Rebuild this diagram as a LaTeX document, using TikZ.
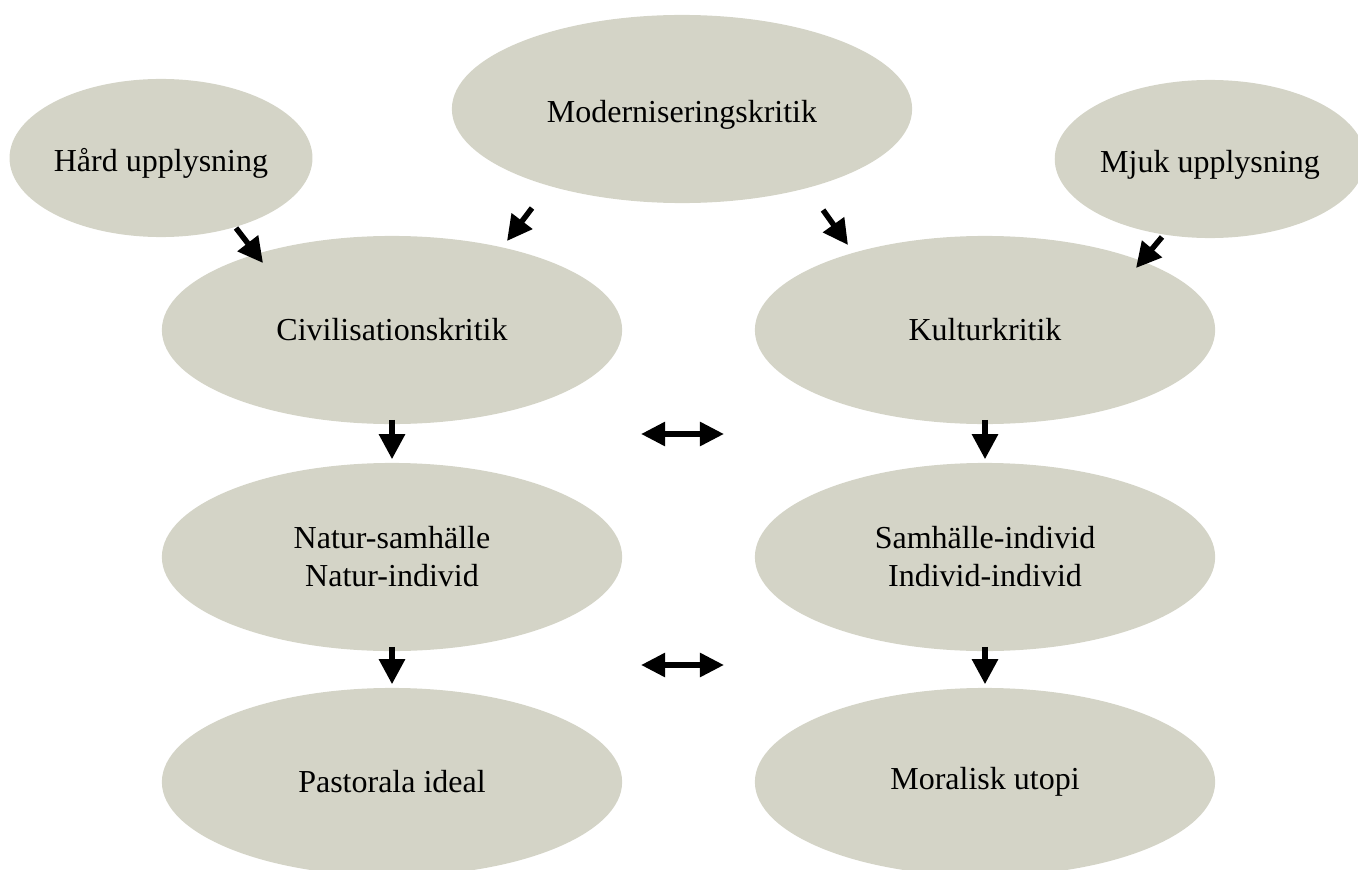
\documentclass[tikz,border=0pt]{standalone}
\usepackage{fontspec}
\setmainfont{Liberation Serif}
\usetikzlibrary{arrows.meta,shapes.geometric,calc}
\definecolor{sand}{RGB}{212,212,199}
\tikzset{
    topic/.style =  {ellipse,
                    fill=sand,
                    draw=none,
                    text=black,
                    inner sep=0pt,
                    align=center,
                    font=\fontsize{9.1}{10.8}\selectfont,
                    minimum width=4.6cm,
                    minimum height=1.88cm},
    side/.style =   {topic,
                    minimum width=3.0cm,
                    minimum height=1.58cm},
    lower/.style =  {text height=0.33cm,
                    text depth=0.07cm},
    arr/.style =    {draw=black,
                    line width=0.055cm,
                    -{Triangle[length=0.25cm,width=0.25cm]}},
    down/.style =   {arr,
                    shorten <=-0.05cm,
                    shorten >=0.03cm},
    both/.style =   {arr,
                    {Triangle[length=0.24cm,width=0.23cm]}-{Triangle[length=0.24cm,width=0.23cm]}}
}
\begin{document}
\begin{tikzpicture}[x=0.01cm,y=-0.01cm]
                \useasboundingbox (0,0) rectangle (1358,870);
                % top row
                \node[side,lower]   (hard)  at (161,158)    {Hård upplysning};
                \node[topic,lower]  (mod)   at (682,109)    {Moderniseringskritik};
                \node[side,lower]   (mjuk)  at (1210,159)   {Mjuk upplysning};
                % left column
                \node[topic]    (civ)   at (392,330)    {Civilisationskritik};
                \node[topic]    (nat)   at (392,557)    {Natur-samhälle\\Natur-individ};
                \node[topic]    (past)  at (392,782)    {Pastorala ideal};
                % right column
                \node[topic]    (kult)  at (985,330)    {Kulturkritik};
                \node[topic]    (samh)  at (985,557)    {Samhälle-individ\\Individ-individ};
                \node[topic]    (moral) at (985,782)    {Moralisk utopi};
                % free ends of the short arrows
                \coordinate (h1) at (236,228);  \coordinate (h2) at (263,263);
                \coordinate (m1) at (532,208);  \coordinate (m2) at (507,241);
                \coordinate (m3) at (823,210);  \coordinate (m4) at (848,245);
                \coordinate (j1) at (1162,237); \coordinate (j2) at (1136,268);
                \coordinate (d1) at (641,434);  \coordinate (d2) at (724,434);
                \coordinate (d3) at (641,665);  \coordinate (d4) at (724,665);
                \path [arr]     (h1) -- (h2);
                \path [arr]     (m1) -- (m2);
                \path [arr]     (m3) -- (m4);
                \path [arr]     (j1) -- (j2);
                \path [down]    (civ.south) -- (nat.north);
                \path [down]    (nat.south) -- (past.north);
                \path [down]    (kult.south) -- (samh.north);
                \path [down]    (samh.south) -- (moral.north);
                \path [both]    (d1) -- (d2);
                \path [both]    (d3) -- (d4);
        \end{tikzpicture}
\end{document}
